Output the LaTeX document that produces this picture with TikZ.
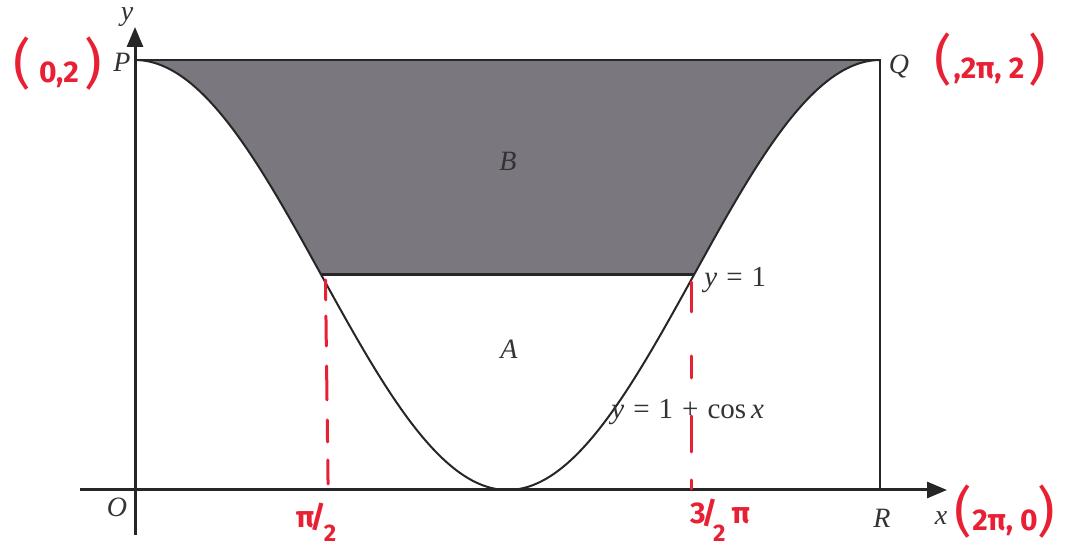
\documentclass[tikz,border=0pt]{standalone}
\usepackage{fontspec}
\setmainfont{Liberation Serif}
\newfontfamily\hand{Fira Sans}
\usetikzlibrary{arrows.meta}
\definecolor{shadegray}{RGB}{122,120,126}
\definecolor{pen}{RGB}{232,32,52}
\newcommand{\bigpar}[1]{{\fontsize{27}{27}\selectfont\mdseries #1}}
\newcommand{\gp}{\hspace{4.5pt}}
\begin{document}
\begin{tikzpicture}[x=0.5pt,y=-0.5pt,
  axisline/.style={line width=1.5pt, black!85, -{Triangle[length=10pt,width=8pt]}},
  curveline/.style={line width=1pt, black!85},
  edgeline/.style={line width=1.2pt, black!85},
  lbl/.style={inner sep=0pt, font=\fontsize{14.5}{16}\selectfont, text=black!80},
  ilbl/.style={lbl, font=\itshape\fontsize{14}{16}\selectfont},
  redlbl/.style={inner sep=0pt, text=pen, font=\hand\bfseries\fontsize{15}{17}\selectfont},
  reddash/.style={pen, line width=1.5pt, line cap=round},
  declare function={px(\t)=135+118.6*\t; py(\t)=490-215*(1+cos(\t r));}]
\useasboundingbox (0,0) rectangle (1070,549);
% key points
\coordinate (xs) at (80,490);
\coordinate (xe) at (947,490);
\coordinate (ys) at (135,535);
\coordinate (ye) at (135,27);
\coordinate (P) at (135,60);
\coordinate (Q) at (880,60);
\coordinate (R) at (880,490);
\coordinate (L1) at ({px(pi/2)},275);
\coordinate (L2) at ({px(3*pi/2)},275);
% shaded region B
\fill[shadegray] plot[domain=0:pi/2, samples=60, smooth] ({px(\x)},{py(\x)})
  -- plot[domain=3*pi/2:2*pi, samples=60, smooth] ({px(\x)},{py(\x)}) -- cycle;
% curve
\draw[curveline] plot[domain=0:2*pi, samples=200, smooth] ({px(\x)},{py(\x)});
% lines
\draw[edgeline] (P) -- (Q) -- (R);
\draw[line width=1.5pt, black!85] (L1) -- (L2);
% axes
\draw[axisline] (xs) -- (xe);
\draw[axisline] (ys) -- (ye);
% printed labels
\node[ilbl] (ylab) at (127,17) {y};
\node[ilbl] (Plab) at (122,62) {P};
\node[ilbl] (Qlab) at (899,67) {Q};
\node[ilbl] (Olab) at (117,507) {O};
\node[ilbl] (Rlab) at (882,518) {R};
\node[ilbl] (xlab) at (941,518) {x};
\node[ilbl] (Blab) at (508,161) {B};
\node[ilbl] (Alab) at (509,349) {A};
\node[lbl, anchor=west] (y1lab) at (704,280) {\textit{y}\gp=\gp1};
\node[lbl, anchor=west] (cosl) at (611,412) {\textit{y}\gp=\gp1\gp+\gp cos\hspace{2.5pt}\textit{x}};
% red annotations
\foreach \a/\b in {280/300,316/346,366/400,420/442,460/484}
  \draw[reddash] ({322+\a/80},\a) -- ({322+\b/80},\b);
\foreach \a/\b in {282/312,356/378,416/452,480/489}
  \draw[reddash] (691,\a) -- (691,\b);
\node[redlbl] (p02) at (58,64) {\bigpar{(}\kern4pt0,2\kern3pt\bigpar{)}};
\node[redlbl] (p2pi2) at (990,60) {\bigpar{(}\kern1pt,2π, 2\kern2pt\bigpar{)}};
\node[redlbl] (p2pi0) at (1005,512) {\bigpar{(}2π, 0\bigpar{)}};
\node[redlbl] (pihalf) at (316,522) {π\kern-2pt/\kern-1pt\raisebox{-7pt}{\fontsize{12}{12}\selectfont 2}};
\node[redlbl] (threehalf) at (720,520) {3\kern-2pt/\kern-2pt\raisebox{-9pt}{\fontsize{12}{12}\selectfont 2}\kern3pt π};
\end{tikzpicture}
\end{document}
